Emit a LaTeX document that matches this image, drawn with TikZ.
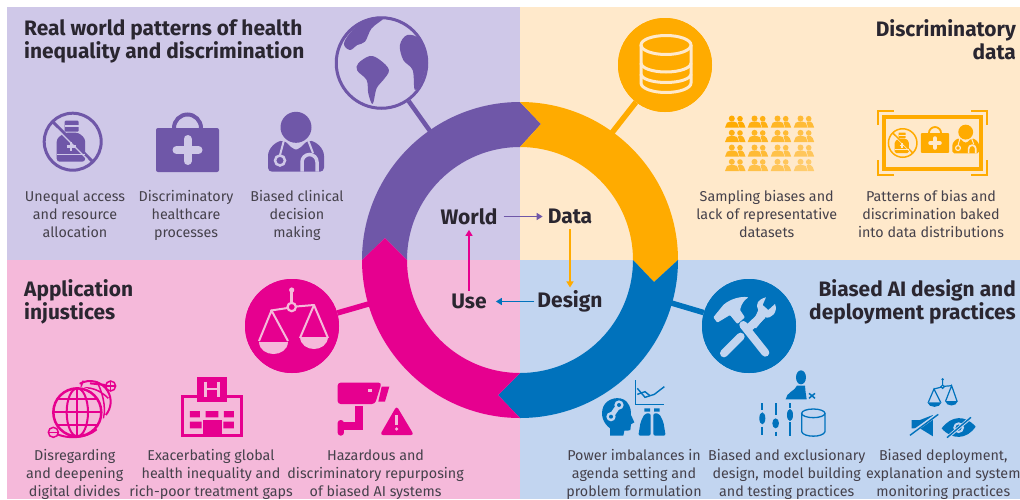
\documentclass[tikz,border=0pt]{standalone}
\usepackage{fontspec}
\setmainfont{Fira Sans}
\usetikzlibrary{arrows.meta}
\definecolor{pbg}{HTML}{CFC8E8}
\definecolor{obg}{HTML}{FFE9CB}
\definecolor{mbg}{HTML}{F5B9DA}
\definecolor{bbg}{HTML}{C2D5F0}
\definecolor{pur}{HTML}{6F57A8}
\definecolor{ora}{HTML}{FFAB00}
\definecolor{mag}{HTML}{E6008F}
\definecolor{blu}{HTML}{0072BC}
\definecolor{ink}{HTML}{2A2630}
\definecolor{bodyink}{HTML}{45414B}
\tikzset{
  title/.style={font=\fontsize{20.9}{23}\selectfont\bfseries,text=ink,inner sep=0pt},
  body/.style={font=\fontsize{14.3}{18}\selectfont,text=bodyink,align=center,inner sep=0pt,execute at begin node=\strut,execute at end node=\strut},
  cyc/.style={font=\fontsize{21}{23}\selectfont\bfseries,text=ink,inner sep=0pt},
  flow/.style={line width=1.4pt,-{Triangle[length=6pt,width=7pt]}},
  hub/.style={circle,minimum size=94pt,inner sep=0pt},
  stem/.style={line width=5.5pt},
}
% #1 x, #2 y, #3 scale, #4 fg, #5 bg
\newcommand{\bottleicon}[5]{\begin{scope}[shift={(#1,#2)},scale=#3]
  \draw[#4,line width=3pt*#3] (0,0) circle[radius=28.5];
  \draw[#4,line width=3pt*#3] (-20,-20) -- (20,20);
  \fill[#4,rounded corners=1pt*#3] (-8,-21) rectangle (6,-10);
  \fill[#5] (-8,-16.5) rectangle (6,-14.5);
  \fill[#4,rounded corners=3pt*#3] (-16,20) -- (-16,-3) -- (-8,-9) -- (6,-9) -- (12.5,-3) -- (12.5,20) -- cycle;
  \draw[#5,line width=1.5pt*#3] (-16,13) -- (12.5,13);
  \draw[#5,line width=2.5pt*#3] (-6,5) -- (3,5) (-1.5,0.5) -- (-1.5,9.5);
  \draw[#5,line width=1.2pt*#3] (-16,-13) -- (15,18);
\end{scope}}
\newcommand{\kiticon}[5]{\begin{scope}[shift={(#1,#2)},scale=#3]
  \draw[#4,line width=4pt*#3] (-13.5,-20) -- (-13.5,-22) arc[start angle=180,end angle=360,radius=13.5] -- (13.5,-20);
  \fill[#4,rounded corners=2pt*#3] (-31.5,-22) rectangle (31.5,22);
  \draw[#5,line width=8pt*#3,line cap=round] (-11,0) -- (11,0) (0,-11) -- (0,11);
\end{scope}}
\newcommand{\docicon}[5]{\begin{scope}[shift={(#1,#2)},scale=#3]
  \fill[#4] (0,-22.7) circle[radius=15.5];
  \fill[#4,rounded corners=4pt*#3] (-28,21.7) -- (-28,10) .. controls (-28,-2) and (-20,-8) .. (-12,-10) -- (-2,0) -- (2,0) -- (12,-10) .. controls (20,-8) and (28,-2) .. (28,10) -- (28,21.7) -- cycle;
  \draw[#5,line width=2pt*#3] (-12,-10) -- (-16,5);
  \draw[#5,line width=2.5pt*#3] (-16,10.5) circle[radius=5];
  \fill[#4] (-16,10.5) circle[radius=2.4];
  \draw[#5,line width=2pt*#3] (12,-10) -- (17,3);
  \draw[#5,line width=3.5pt*#3] (6,21.7) -- (6,12) arc[start angle=180,end angle=360,radius=7.5] -- (21,21.7);
\end{scope}}
\newcommand{\peopleicon}[3]{\begin{scope}[shift={(#1,#2)}]
  \fill[ora,opacity=#3] (5,-3) circle[radius=2.8];
  \fill[ora,opacity=#3] (-3.2,-3.2) circle[radius=3];
  \fill[ora,opacity=#3] (-10,6) -- (-8,1) -- (-5,0) -- (-1,0) -- (2,1) -- (4,6) -- cycle;
  \fill[ora,opacity=#3] (4.5,6) -- (3,1) -- (3.5,0) -- (7,0) -- (9,2) -- (10.5,6) -- cycle;
\end{scope}}
\begin{document}
\begin{tikzpicture}[x=1pt,y=-1pt]
\useasboundingbox (0,0) rectangle (1020,499);
\fill[white] (0,0) rectangle (1020,499);
\fill[pbg] (7,7) rectangle (520,260);
\fill[obg] (520,7) rectangle (1020,260);
\fill[mbg] (7,260) rectangle (520,499);
\fill[bbg] (520,260) rectangle (1020,499);
% anchors on ring for stems
\coordinate (rp) at (430,131);
\coordinate (ro) at (611,134);
\coordinate (rm) at (372,303);
\coordinate (rb) at (668,302);
% hubs and stems
\node[hub,draw=pur,line width=2.5pt,minimum size=91pt] (earth) at (381.5,63) {};
\node[hub,fill=ora] (db) at (665,65) {};
\node[hub,fill=mag] (justice) at (292,326) {};
\node[hub,fill=blu] (tools) at (749,326) {};
\draw[stem,pur,line width=4.5pt] (earth) -- (rp);
\draw[stem,ora] (db) -- (ro);
\draw[stem,mag] (justice) -- (rm);
\draw[stem,blu] (tools) -- (rb);
\fill[pbg] (earth) circle[radius=44];
\draw[pur,line width=2.5pt] (earth) circle[radius=45];
\fill[ora] (db) circle[radius=47];
\fill[mag] (justice) circle[radius=47];
\fill[blu] (tools) circle[radius=47];
% ring
\fill[pur] (362,260) arc[start angle=180,end angle=270,radius=158] -- (541,124) -- (520,147) arc[start angle=270,end angle=180,radius=113] -- (385,238) -- cycle;
\fill[ora] (520,102) arc[start angle=-90,end angle=0,radius=158] -- (654,282) -- (633,260) arc[start angle=0,end angle=-90,radius=113] -- (541,124) -- cycle;
\fill[blu] (678,260) arc[start angle=0,end angle=90,radius=158] -- (498,395) -- (520,373) arc[start angle=90,end angle=0,radius=113] -- (654,282) -- cycle;
\fill[mag] (520,418) arc[start angle=90,end angle=180,radius=158] -- (385,238) -- (407,260) arc[start angle=180,end angle=90,radius=113] -- (498,395) -- cycle;
% continents (zoom coords)
\begin{scope}[scale=0.3333]
\fill[pur] plot[smooth cycle,tension=.6] coordinates {(1075,190) (1110,168) (1140,180) (1167,210) (1150,240) (1130,265) (1118,312) (1105,280) (1100,240) (1072,212)};
\fill[pur] plot[smooth cycle,tension=.6] coordinates {(1032,130) (1060,88) (1105,60) (1150,55) (1115,85) (1095,125) (1072,135) (1050,150)};
\fill[pur] plot[smooth cycle,tension=.6] coordinates {(1200,135) (1222,105) (1260,118) (1278,170) (1270,230) (1245,270) (1238,210) (1210,180)};
\end{scope}
% database icon
\draw[obg,line width=3pt] (641,45) -- (641,83) arc[start angle=180,end angle=0,radius=25,y radius=9.5] -- (691,45);
\draw[obg,line width=3pt] (666,45) ellipse[x radius=25,y radius=9.5];
\draw[obg,line width=3pt] (641,63) arc[start angle=180,end angle=0,radius=25,y radius=9];
\draw[obg,line width=3pt] (641,74) arc[start angle=180,end angle=0,radius=25,y radius=8.5];
% scales in circle (pink)
\draw[mbg,line width=2.5pt,line cap=round] (291.7,290) -- (291.7,302);
\fill[mbg] (291.7,290) circle[radius=2.6];
\draw[mbg,line width=2.2pt] (291.7,307) circle[radius=4.2];
\draw[mbg,line width=2pt,line cap=round] (287.5,308) -- (271,310.5) (296,306.5) -- (314,305);
\draw[mbg,line width=2pt,line join=round] (259,341) -- (271.5,310.5) -- (288,341);
\draw[mbg,line width=2pt,line join=round] (300,338) -- (314,305) -- (328,338);
\fill[mbg] (259,342) .. controls (260,358) and (287,358) .. (288,342) -- cycle;
\fill[mbg] (300,337) .. controls (301,353) and (327,353) .. (328,337) -- cycle;
% hammer and wrench (zoom 4 coords)
\begin{scope}[shift={(510,260)},scale=0.3333]
\draw[bbg,line width=8pt,line cap=round] (700,195) -- (766,278);
\fill[bbg,rounded corners=1pt] (610,172) -- (622,188) -- (660,165) -- (682,192) -- (705,172) -- (690,150) .. controls (695,130) and (705,118) .. (716,112) .. controls (690,108) and (660,118) .. (640,135) -- cycle;
\draw[bbg,line width=8pt,line cap=round] (642,280) -- (692,230);
\draw[bbg,line width=8pt,line cap=butt] (712,208) -- (758,165);
\fill[bbg] (725,195) -- (745,150) .. controls (735,130) and (745,118) .. (768,112) -- (758,135) -- (775,150) -- (795,132) .. controls (805,155) and (785,178) .. (765,172) -- (738,205) -- cycle;
\end{scope}
% purple icons
\bottleicon{72.7}{141.7}{1}{pur}{pbg}
\kiticon{187.5}{150}{1}{pur}{pbg}
\docicon{296}{150}{1}{pur}{pbg}
% orange
\foreach \c/\x in {0/735,1/757.7,2/780.7,3/803.7}
  \foreach \r/\y in {0/121.7,1/136,2/150.7,3/165}{
    \pgfmathsetmacro{\op}{1-0.09*(\c+\r)}
    \peopleicon{\x}{\y}{\op}
  }
\draw[ora,line width=4pt] (883.5,117) rectangle (981,169);
\draw[ora,line width=2pt] (878,125) -- (878,111) -- (894,111) (971,111) -- (987,111) -- (987,125) (987,160) -- (987,175) -- (971,175) (894,175) -- (878,175) -- (878,160);
\bottleicon{902.7}{143}{0.5}{ora}{obg}
\kiticon{935}{143}{0.45}{ora}{obg}
\docicon{965.7}{143}{0.48}{ora}{obg}
% pink icons (zoom 8 coords)
\begin{scope}[shift={(40,370)},scale=0.3333]
\draw[mag,line width=2pt] (150,95) ++(240:62) arc[start angle=240,end angle=400,radius=62];
\draw[mag,line width=1.5pt] (95,65) .. controls (130,45) and (170,50) .. (205,85) (130,32) .. controls (118,60) and (120,70) .. (125,75) (170,34) .. controls (185,60) and (200,110) .. (190,145);
\fill[mbg] (112,127) circle[radius=78];
\draw[mag,line width=2.5pt] (112,127) circle[radius=72];
\draw[mag,line width=2pt] (112,127) ellipse[x radius=32,y radius=72];
\draw[mag,line width=2pt] (112,55) -- (112,199) (40,127) -- (184,127);
\draw[mag,line width=2pt] (52,88) -- (172,88) (52,166) -- (172,166);
\draw[mag,line width=2pt] (40,187) .. controls (80,210) and (140,205) .. (170,178);
\draw[mag,line width=2pt] (150,40) -- (197,45);
\draw[mag,line width=1.5pt,fill=mbg] (212,48) circle[radius=15];
\draw[mag,line width=1.5pt] (197,48) -- (227,48) (212,33) -- (212,63);
\draw[mag,line width=1.5pt,fill=mbg] (40,187) circle[radius=15];
\draw[mag,line width=1.5pt] (25,187) -- (55,187);
% hospital
\draw[mag,line width=3pt] (472,78) -- (428,78) -- (428,195) -- (605,195) -- (605,78) -- (560,78);
\fill[mag] (472,20) rectangle (560,95);
\draw[mbg,line width=2.4pt] (497,35) -- (497,80) (535,35) -- (535,80) (497,57) -- (535,57);
\fill[mag] (450,123) rectangle (480,142) (497,123) rectangle (535,142) (552,123) rectangle (582,142);
\fill[mag] (450,155) rectangle (485,175) (550,155) rectangle (582,175);
\fill[mag] (490,150) rectangle (545,195);
% camera
\fill[mag,rounded corners=3pt] (893,38) -- (1025,38) -- (1005,102) -- (893,102) -- cycle;
\fill[mag] (1025,50) -- (1048,50) -- (1035,95) -- (1015,95) -- cycle;
\fill[mbg] (985,58) rectangle (995,67);
\fill[mag] (945,108) rectangle (968,180);
\fill[mag] (900,155) rectangle (968,180);
\fill[mag,rounded corners=3pt] (893,150) rectangle (912,197);
\fill[mag,rounded corners=3pt,line join=round] (1070,108) -- (1122,195) -- (1020,195) -- cycle;
\draw[mbg,line width=3pt] (1070,135) -- (1070,165);
\fill[mbg] (1070,177) circle[radius=5.5];
\end{scope}
% blue icons (zoom 9 coords)
\begin{scope}[shift={(595,365)},scale=0.3333]
\fill[blu] (45,212) -- (45,190) .. controls (25,175) and (15,150) .. (25,125) .. controls (35,100) and (75,90) .. (95,110) .. controls (108,125) and (108,140) .. (108,150) -- (118,172) -- (108,178) -- (106,195) .. controls (100,198) and (95,197) .. (88,197) -- (85,212) -- cycle;
\fill[bbg] (48,155) circle[radius=14] (72,120) circle[radius=14];
\draw[bbg,line width=5pt] (48,155) -- (72,120);
\fill[blu] (48,155) circle[radius=6] (72,120) circle[radius=6];
\draw[blu,line width=1.6pt] (122,45) -- (122,118) -- (208,118);
\draw[blu,line width=1.4pt] (127,70) -- (150,97) -- (178,88) -- (208,65);
\draw[blu,line width=1.4pt] (127,88) -- (150,80) -- (165,92);
\fill[blu,rounded corners=2pt] (130,212) -- (137,170) -- (150,145) -- (167,145) -- (167,212) -- cycle;
\fill[blu,rounded corners=2pt] (212,212) -- (205,170) -- (192,145) -- (175,145) -- (175,212) -- cycle;
\fill[blu] (148,130) rectangle (165,140) (177,130) rectangle (194,140);
% person + sliders + db
\fill[blu] (618,37) ellipse[x radius=15,y radius=21];
\fill[blu] (572,103) .. controls (574,82) and (600,78) .. (606,62) -- (630,62) .. controls (630,75) and (633,85) .. (635,103) -- cycle;
\draw[blu,line width=1.5pt] (642,85) -- (660,100) (660,85) -- (642,100);
\draw[blu,line width=2pt] (502,115) -- (502,135) (502,185) -- (502,210) (542,115) -- (542,150) (542,200) -- (542,212) (585,115) -- (585,130) (585,172) -- (585,212);
\fill[blu] (502,160) ellipse[x radius=9,y radius=18] (542,175) ellipse[x radius=10,y radius=15] (585,150) ellipse[x radius=9,y radius=18];
\draw[blu,line width=1.3pt] (655,145) ellipse[x radius=35,y radius=13];
\draw[blu,line width=1.3pt] (620,145) -- (620,200) .. controls (625,218) and (685,218) .. (690,200) -- (690,145);
% small scales
\draw[blu,line width=1.2pt] (1043,42) -- (1043,60) (1040,66) -- (1017,72) (1047,64) -- (1070,62);
\fill[blu] (1043,43) circle[radius=4];
\draw[blu,line width=1.2pt] (1043,65) circle[radius=5];
\draw[blu,line width=1.2pt] (1000,112) -- (1017,72) -- (1037,112) (1052,108) -- (1070,62) -- (1086,108);
\fill[blu] (997,112) .. controls (1002,130) and (1035,130) .. (1040,112) -- cycle;
\fill[blu] (1050,108) .. controls (1055,126) and (1084,126) .. (1089,108) -- cycle;
% speaker
\fill[blu] (950,165) -- (975,165) -- (1014,150) -- (1014,214) -- (975,190) -- (950,190) -- cycle;
\draw[bbg,line width=3.2pt] (945,207) -- (1025,150);
\draw[blu,line width=1.4pt] (945,211) -- (1030,148);
% eye
\fill[blu] (1040,190) .. controls (1070,150) and (1112,150) .. (1142,185) .. controls (1115,225) and (1070,225) .. (1040,190) -- cycle;
\draw[bbg,line width=2pt] (1091,188) circle[radius=13];
\draw[bbg,line width=3.2pt] (1060,215) -- (1125,160);
\draw[blu,line width=1.4pt] (1056,218) -- (1128,157);
\end{scope}
% titles
\node[title,anchor=north west,align=left] (t1) at (24,19) {Real world patterns of health\\inequality and discrimination};
\node[title,anchor=north east,align=right] (t2) at (1016,19) {Discriminatory\\data};
\node[title,anchor=north west,align=left] (t3) at (24,279) {Application\\injustices};
\node[title,anchor=north east,align=right] (t4) at (1016,279) {Biased AI design and\\deployment practices};
% body
\node[body] (a1) at (75,217) {Unequal access\\and resource\\allocation};
\node[body] (a2) at (186,217) {Discriminatory\\healthcare\\processes};
\node[body] (a3) at (297,217) {Biased clinical\\decision\\making};
\node[body] (b1) at (766.7,217) {Sampling biases and\\lack of representative\\datasets};
\node[body] (b2) at (931,217) {Patterns of bias and\\discrimination baked\\into data distributions};
\node[body] (c1) at (74.7,476) {Disregarding\\and deepening\\digital divides};
\node[body] (c2) at (211,476) {Exacerbating global\\health inequality and\\rich-poor treatment gaps};
\node[body] (c3) at (375.6,476) {Hazardous and\\discriminatory repurposing\\of biased AI systems};
\node[body] (d1) at (634,476) {Power imbalances in\\agenda setting and\\problem formulation};
\node[body] (d2) at (786.7,476) {Biased and exclusionary\\design, model building\\and testing practices};
\node[body] (d3) at (943.3,476) {Biased deployment,\\explanation and system\\monitoring practices};
% cycle
\node[cyc] (world) at (469,216.5) {World};
\node[cyc] (data) at (570,216.5) {Data};
\node[cyc] (use) at (469,301.5) {Use};
\node[cyc] (design) at (570,301.5) {Design};
\draw[flow,pur,shorten <=6pt,shorten >=5pt] (world) -- (data);
\draw[flow,ora,shorten <=5pt,shorten >=3pt] (data) -- (design);
\draw[flow,blu,shorten <=3pt,shorten >=9pt] (design) -- (use);
\draw[flow,mag,shorten <=3pt,shorten >=5pt] (use) -- (world);
\end{tikzpicture}
\end{document}
